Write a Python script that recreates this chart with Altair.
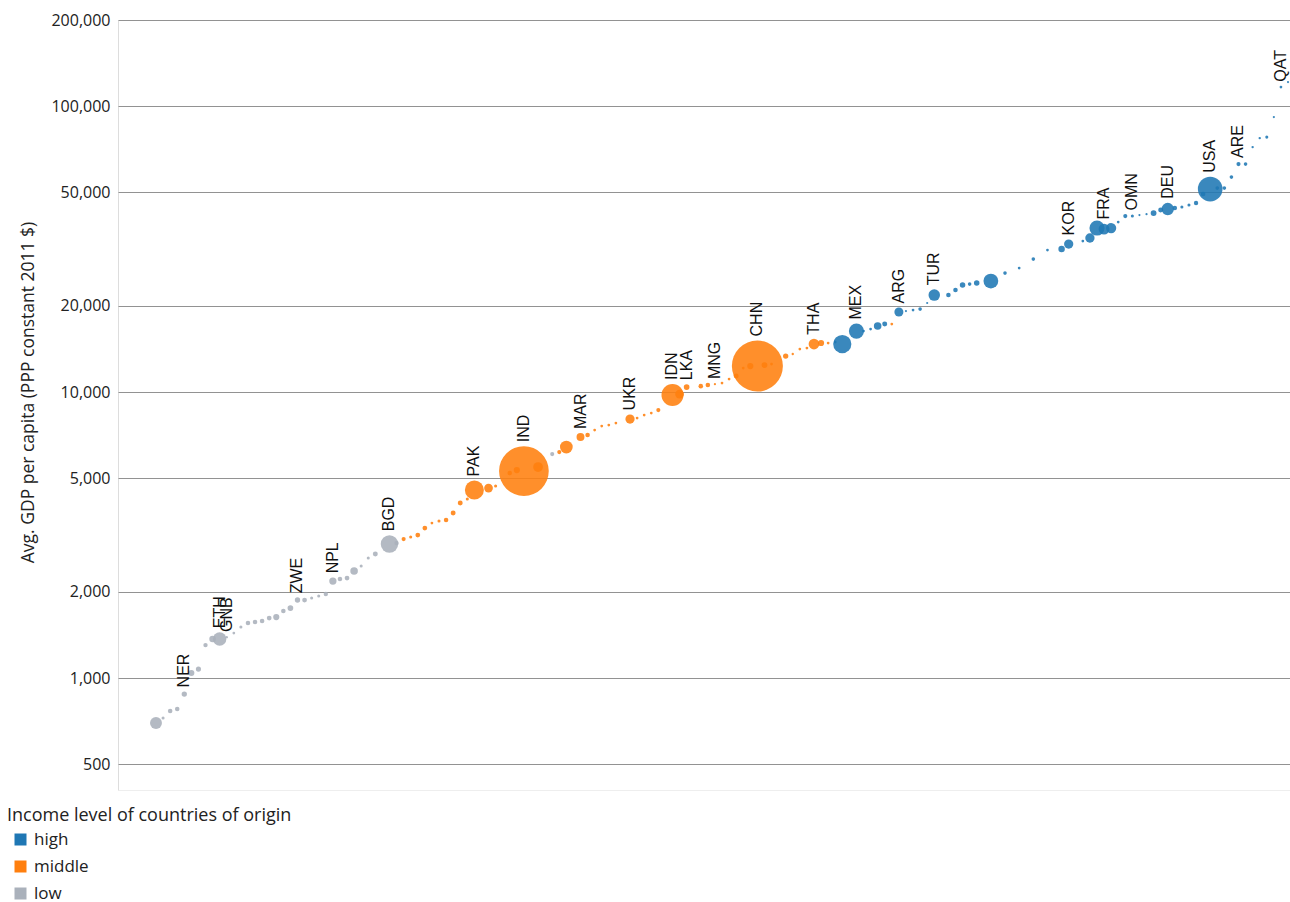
import altair as alt
import pandas as pd

# rank position of each country (sorted by avg GDP per capita)
rank = [0, 1, 2, 3, 4, 5, 6, 7, 8, 9, 10, 11, 12, 13, 14, 15, 16, 17, 18, 19,
        20, 21, 22, 23, 24, 25, 26, 27, 28, 29, 30, 31, 33, 34,
        35, 36, 37, 38, 39, 40, 41, 42, 43, 44, 45, 47, 48, 50, 51, 52, 54,
        56, 57, 58, 60, 61, 62, 63, 64, 65, 67, 68, 69, 70, 71, 73, 74, 75,
        77, 78, 79, 80, 81, 82, 83, 84, 85, 86, 87, 89, 90, 91, 92, 93, 94, 95,
        96, 97, 99, 100, 101, 102, 103, 104, 105, 106, 107, 108, 109, 110,
        112, 113, 114, 115, 116, 118, 120, 122, 124, 126, 128, 129, 131, 132,
        133, 134, 135, 136, 137, 138, 139, 140, 141, 142, 143, 144, 145, 146,
        147, 148, 149, 150, 151, 152, 153, 154, 155, 156, 157, 158, 159, 160]

gdp = [696, 725, 767, 779, 879, 1041, 1075, 1304, 1369, 1369, 1390, 1437, 1508,
       1557, 1570, 1582, 1621, 1634, 1715, 1757, 1874, 1874, 1905, 1935, 1967,
       2184, 2219, 2237, 2366, 2464, 2628, 2714, 2942, 2965,
       3062, 3112, 3162, 3346, 3483, 3540, 3568, 3775, 4091, 4225, 4543, 4617,
       4692, 5210, 5337, 5294, 5468,
       6070, 6169, 6424, 6960, 7073, 7364, 7605, 7667, 7792, 8047, 8112, 8310,
       8445, 8651, 9761, 9840, 10410,
       10490, 10580, 10660, 10750, 11100, 11380, 12130, 12330, 12330, 12430,
       12530, 13360, 13580, 14140, 14250, 14720, 14840, 14840,
       14960, 14720, 16340, 16340, 16610, 17010, 17290, 17290, 19050, 19200,
       19350, 19510, 20480, 21840,
       21840, 22740, 23670, 23860, 24050, 24440, 26060, 27140, 29180, 31370,
       31620, 32920, 33730, 34560,
       37450, 37150, 37450, 39300, 41250, 41250, 41580, 41900, 42260, 43290,
       43640, 43990, 44360, 45080,
       45810, 49240, 51260, 51680, 51680, 56450, 62690, 62690, 71890, 77270,
       77910, 91520, 116500, 121300]

# population, millions
pop = [75, 5, 11, 11, 15, 19, 14, 10, 23, 95, 3, 4, 5, 11, 11, 11, 12, 20, 11, 17,
       15, 12, 5, 5, 10, 28, 11, 12, 30, 5, 5, 13, 160, 10,
       9, 5, 12, 12, 4, 5, 11, 13, 13, 5, 190, 40, 5, 11, 20, 1300, 50,
       9, 9, 85, 33, 11, 4, 4, 4, 4, 45, 4, 4, 4, 9, 255, 40, 17,
       11, 11, 2.5, 4, 4, 13, 4, 20, 1370, 18, 4, 15, 3, 4, 4, 60, 20, 4,
       4, 175, 120, 4, 4, 30, 13, 4, 43, 2.5, 4, 7, 2.5, 70,
       11, 11, 16, 7, 16, 115, 7, 4, 7, 4, 22, 45, 4, 46,
       120, 62, 55, 4, 9, 5, 2.5, 2.5, 18, 13, 81, 11, 5, 5,
       10, 11, 320, 7, 7, 7, 9, 7, 3, 3, 5, 2.5, 4, 2.5]

income = (["low"] * 34
          + ["middle"] * 17
          + ["low"]
          + ["middle"] * 34
          + ["high"] * 7 + ["middle"] + ["high"] * 48)

labels = {4: "NER", 9: "ETH", 10: "GNB", 20: "ZWE", 25: "NPL", 33: "BGD",
          45: "PAK", 52: "IND", 60: "MAR", 67: "UKR", 73: "IDN", 75: "LKA",
          79: "MNG", 85: "CHN", 93: "THA", 99: "MEX", 105: "ARG", 110: "TUR",
          129: "KOR", 134: "FRA", 138: "OMN", 143: "DEU", 149: "USA",
          153: "ARE", 159: "QAT"}
code = [labels.get(r, "") for r in rank]

ticks = [500, 1000, 2000, 5000, 10000, 20000, 50000, 100000, 200000]
levels = ["high", "middle", "low"]
colors = ["#1f77b4", "#ff7f0e", "#aab1bb"]

df = pd.DataFrame({"rank": rank, "gdp": gdp, "pop": pop,
                   "income": income, "code": code})

SIZE_K = 1.9  # symbol size units (bounding-box px^2) per million people

xs = alt.Scale(domain=[-5.37, 160.28], nice=False, zero=False)
ys = alt.Scale(type="log", domain=[406, 200000], nice=False)

base = alt.Chart(df)

points = base.mark_circle(opacity=0.88).encode(
    x=alt.X("rank:Q", scale=xs,
            axis=alt.Axis(labels=False, ticks=False, grid=False, title=None,
                          domainColor="#eeeeee")),
    y=alt.Y("gdp:Q", scale=ys,
            axis=alt.Axis(values=ticks, format=",", title="Avg. GDP per capita (PPP constant 2011 $)",
                          grid=True, gridColor="#929292", gridWidth=1,
                          domain=False, ticks=False, labelPadding=8,
                          labelFontSize=16, labelColor="#222222", labelFont="Open Sans",
                          titleFont="Open Sans", titleFontSize=17.5, titleFontWeight="normal",
                          titleColor="#222222", titleX=-90, titleY=372,
                          titleBaseline="middle", titleAngle=270)),
    size=alt.Size("pop:Q", scale=alt.Scale(domain=[0, 1400], range=[0, 1400 * SIZE_K]),
                  legend=None),
    color=alt.Color("income:N", scale=alt.Scale(domain=levels, range=colors),
                    legend=alt.Legend(title="Income level of countries of origin",
                                      orient="none", legendX=-111, legendY=787,
                                      symbolType="square", symbolSize=144,
                                      symbolOpacity=1, symbolStrokeWidth=0,
                                      symbolOffset=5, labelOffset=5,
                                      labelFont="Open Sans", labelFontSize=17,
                                      labelColor="#222222", labelLimit=400,
                                      titleFont="Open Sans", titleFontSize=18,
                                      titleFontWeight="normal", titleColor="#222222",
                                      titleLimit=600, titlePadding=6, rowPadding=9)),
    order=alt.Order("pop:Q", sort="descending"),
)

texts = base.transform_filter(alt.datum.code != "").transform_calculate(
    ly="datum.gdp * pow(10, (sqrt(datum.pop * %f) / 2 + 4) / 285.3)" % SIZE_K
).mark_text(angle=270, align="left", baseline="middle", font="Liberation Sans",
            fontSize=16, color="#111111").encode(
    x=alt.X("rank:Q", scale=xs),
    y=alt.Y("ly:Q", scale=ys),
    text="code:N",
)

chart = alt.layer(points, texts).properties(
    width=1172, height=770,
    autosize=alt.AutoSizeParams(type="none"),
    padding={"left": 118, "top": 20, "right": 0, "bottom": 112},
).configure_view(stroke=None).configure(background="white")

chart.save("out.html", embed_options={"renderer": "svg", "actions": False})
